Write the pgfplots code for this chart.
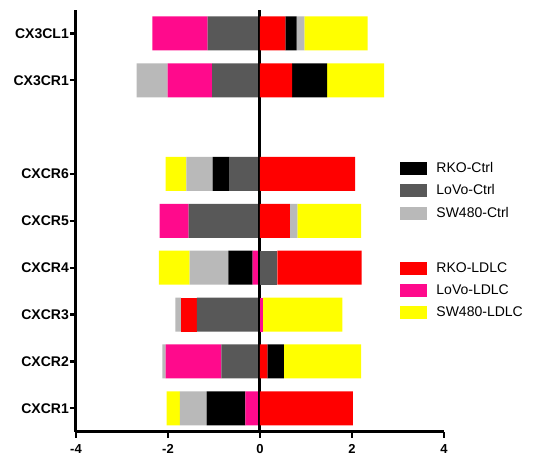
\documentclass[border=0pt]{standalone}
\usepackage{fontspec}
\setmainfont{Liberation Sans}
\usepackage{pgfplots}
\usepackage{pgfplotstable}
\pgfplotsset{compat=1.18}
\definecolor{cRKOC}{RGB}{0,0,0}
\definecolor{cLoVoC}{RGB}{88,88,88}
\definecolor{cSWC}{RGB}{185,185,185}
\definecolor{cRKOL}{RGB}{255,0,0}
\definecolor{cLoVoL}{RGB}{255,10,140}
\definecolor{cSWL}{RGB}{255,255,0}

\pgfplotstableread{
y LoVoCtrl RKOLDLC LoVoLDLC RKOCtrl SW480Ctrl SW480LDLC
1 0     2.02  -0.32  -0.84  -0.58  -0.29
2 -0.84 0.16  -1.21  0.36   -0.07  1.68
3 -1.37 -0.35 0.06   0      -0.12  1.73
4 0.38  1.83  -0.16  -0.53  -0.84  -0.67
5 -1.55 0.65  -0.63  0      0.16   1.39
6 -0.66 2.07  0      -0.37  -0.57  -0.45
8 -1.04 0.70  -0.97  0.76   -0.67  1.24
9 -1.14 0.55  -1.20  0.245  0.17   1.375
}\datatable

\newcommand{\legbox}[2]{\addlegendimage{legend image code/.code={\fill[#1] (0pt,-6pt) rectangle (26pt,6pt);}}\addlegendentry{#2}}

\pgfplotsset{common/.style={
  scale only axis, width=368pt, height=421.7pt,
  xmin=-4, xmax=4, ymin=0.5, ymax=9.5,
  xbar stacked, bar width=34pt,
}}

\begin{document}
\begin{tikzpicture}
\useasboundingbox (-76pt,-27.3pt) rectangle (463pt,431.7pt);
% negative parts
\begin{axis}[common,
  axis x line=bottom, axis y line=left,
  axis line style={line width=3pt,-},
  tick style={line width=2.2pt,black},
  major tick length=6pt, tick align=outside,
  xtick={-4,-2,0,2,4}, xticklabels={-4,-2,0,2,4},
  ytick={1,2,3,4,5,6,8,9},
  yticklabels={CXCR1,CXCR2,CXCR3,CXCR4,CXCR5,CXCR6,CX3CR1,CX3CL1},
  yticklabel style={font=\bfseries\fontsize{14}{16}\selectfont, inner sep=2pt, xshift=1pt},
  xticklabel style={font=\bfseries\fontsize{13}{15}\selectfont, inner sep=2pt, yshift=-5pt},
  legend style={at={(0.880,0.645)}, anchor=north west, draw=none, fill=none,
    inner sep=0pt, row sep=7pt, font=\fontsize{14}{16}\selectfont,
    /tikz/every odd column/.append style={column sep=8pt}},
  legend cell align=left,
]
\addplot[draw=none, fill=cLoVoC, forget plot] table[y=y, x expr={min(\thisrow{LoVoCtrl},0)}] {\datatable};
\addplot[draw=none, fill=cRKOL, forget plot] table[y=y, x expr={min(\thisrow{RKOLDLC},0)}] {\datatable};
\addplot[draw=none, fill=cLoVoL, forget plot] table[y=y, x expr={min(\thisrow{LoVoLDLC},0)}] {\datatable};
\addplot[draw=none, fill=cRKOC, forget plot] table[y=y, x expr={min(\thisrow{RKOCtrl},0)}] {\datatable};
\addplot[draw=none, fill=cSWC, forget plot] table[y=y, x expr={min(\thisrow{SW480Ctrl},0)}] {\datatable};
\addplot[draw=none, fill=cSWL, forget plot] table[y=y, x expr={min(\thisrow{SW480LDLC},0)}] {\datatable};
\legbox{cRKOC}{RKO-Ctrl}
\legbox{cLoVoC}{LoVo-Ctrl}
\legbox{cSWC}{SW480-Ctrl}
\addlegendimage{legend image code/.code={}}\addlegendentry{\rule{0pt}{20pt}}
\legbox{cRKOL}{RKO-LDLC}
\legbox{cLoVoL}{LoVo-LDLC}
\legbox{cSWL}{SW480-LDLC}
\end{axis}
% positive parts
\begin{axis}[common, hide axis, clip=false]
\addplot[draw=none, fill=cLoVoC] table[y=y, x expr={max(\thisrow{LoVoCtrl},0)}] {\datatable};
\addplot[draw=none, fill=cRKOL] table[y=y, x expr={max(\thisrow{RKOLDLC},0)}] {\datatable};
\addplot[draw=none, fill=cLoVoL] table[y=y, x expr={max(\thisrow{LoVoLDLC},0)}] {\datatable};
\addplot[draw=none, fill=cRKOC] table[y=y, x expr={max(\thisrow{RKOCtrl},0)}] {\datatable};
\addplot[draw=none, fill=cSWC] table[y=y, x expr={max(\thisrow{SW480Ctrl},0)}] {\datatable};
\addplot[draw=none, fill=cSWL] table[y=y, x expr={max(\thisrow{SW480LDLC},0)}] {\datatable};
\draw[line width=3pt] (axis cs:0,0.5) -- (axis cs:0,9.5);
\end{axis}
\end{tikzpicture}
\end{document}
